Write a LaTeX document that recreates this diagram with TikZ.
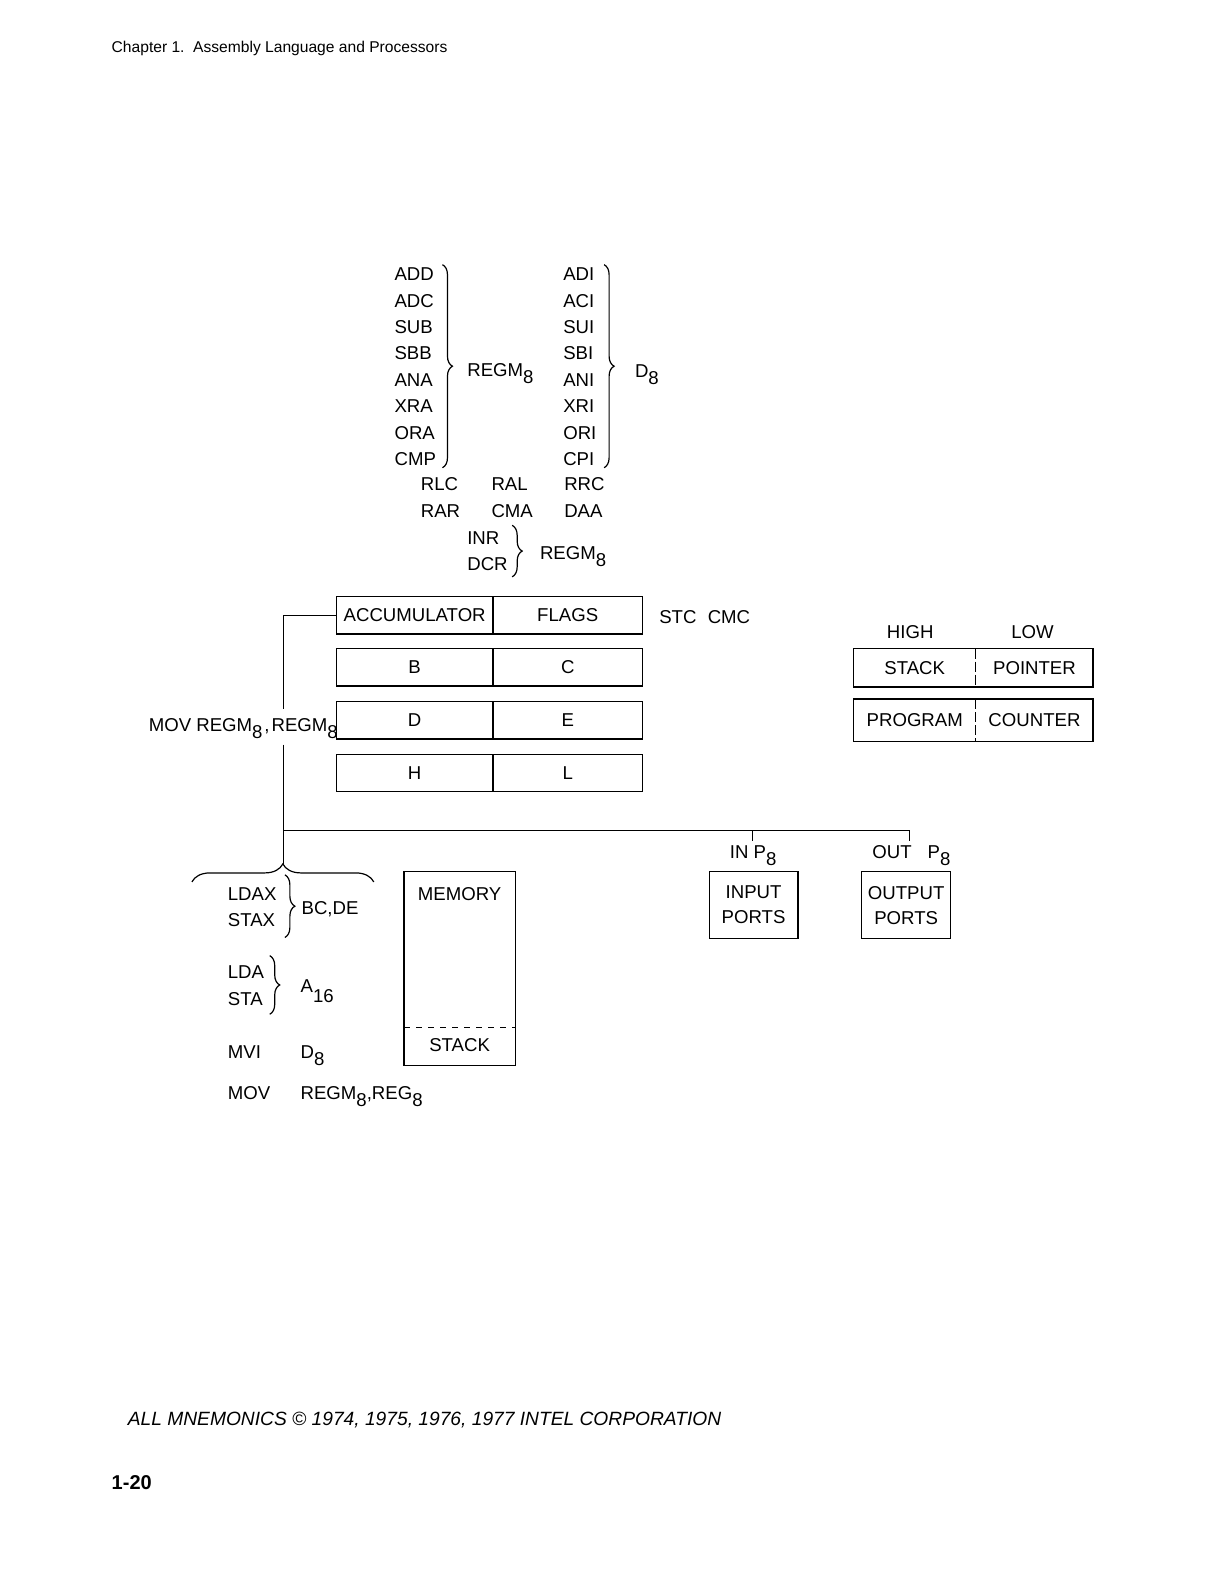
\documentclass[tikz,border=0pt]{standalone}
\usepackage{fontspec}
\setmainfont{Liberation Sans}
\usepackage{tikz}
\usetikzlibrary{positioning,decorations.pathreplacing}
\newcommand{\lowr}[1]{\raisebox{-3.5pt}{#1}}

\begin{document}
\begin{tikzpicture}[x=0.505pt, y=-0.505pt, line width=0.6pt,
    mn/.style={anchor=base west, inner sep=0pt, font=\fontsize{9.3}{11}\selectfont},
    cn/.style={inner sep=0pt, font=\fontsize{9.3}{11}\selectfont},
    reg/.style={rectangle, draw, inner sep=0pt, outer sep=0pt, minimum height=18.7pt, font=\fontsize{9.3}{12.5}\selectfont},
    brc/.style={decorate, decoration={brace, amplitude=5pt}}]
    \useasboundingbox (0,0) rectangle (1212,1568);

    \node[mn, font=\fontsize{7.8}{9}\selectfont] (hdr) at (110,52) {Chapter 1.\ \ Assembly Language and Processors};

    \foreach \m [count=\i from 0] in {ADD,ADC,SUB,SBB,ANA,XRA,ORA,CMP}
        \node[mn] (l\i) at (390,{278+26.1*\i}) {\m};
    \foreach \m [count=\i from 0] in {ADI,ACI,SUI,SBI,ANI,XRI,ORI,CPI}
        \node[mn] (r\i) at (557,{278+26.1*\i}) {\m};
    \draw[brc] (438,262) -- (438,463);
    \draw[brc] (598,262) -- (598,463);
    \node[mn] (rgl) at (462,373) {REGM\lowr{8}};
    \node[mn] (dr) at (628,374) {D\lowr{8}};

    \node[mn] (rlc) at (416,486) {RLC};
    \node[mn] (ral) at (486,486) {RAL};
    \node[mn] (rrc) at (558,486) {RRC};
    \node[mn] (rar) at (416,512) {RAR};
    \node[mn] (cma) at (486,512) {CMA};
    \node[mn] (daa) at (558,512) {DAA};
    \node[mn] (inr) at (462,539) {INR};
    \node[mn] (dcr) at (462,565) {DCR};
    \draw[brc] (507,520) -- (507,571);
    \node[mn] (rgi) at (534,554) {REGM\lowr{8}};

    \node[reg, minimum width=78.3pt] (acc) at (410.5,609) {ACCUMULATOR};
    \node[reg, minimum width=74.7pt, right=0pt of acc] (flg) {FLAGS};
    \node[reg, minimum width=78.3pt] (rb) at (410.5,660.5) {B};
    \node[reg, minimum width=74.7pt, right=0pt of rb] (rc) {C};
    \node[reg, minimum width=78.3pt] (rd) at (410.5,713) {D};
    \node[reg, minimum width=74.7pt, right=0pt of rd] (re) {E};
    \node[reg, minimum width=78.3pt] (rh) at (410.5,765) {H};
    \node[reg, minimum width=74.7pt, right=0pt of rh] (rl) {L};
    \node[mn] (stc) at (652,617) {STC};
    \node[mn] (cmc) at (700,617) {CMC};

    \node[cn] (hi) at (901,626) {HIGH};
    \node[cn] (lo) at (1022,626) {LOW};
    \node[reg, draw=none, minimum width=61.1pt, minimum height=19.2pt] (sph) at (905.5,661) {STACK};
    \node[reg, draw=none, minimum width=58.6pt, minimum height=19.2pt, right=0pt of sph] (spl) {POINTER};
    \draw (sph.north west) rectangle (spl.south east);
    \draw[dash pattern=on 5pt off 1.5pt] (sph.north east) -- (sph.south east);
    \node[reg, draw=none, minimum width=61.1pt, minimum height=21.2pt] (pch) at (905.5,713) {PROGRAM};
    \node[reg, draw=none, minimum width=58.6pt, minimum height=21.2pt, right=0pt of pch] (pcl) {COUNTER};
    \draw (pch.north west) rectangle (pcl.south east);
    \draw[dash pattern=on 5pt off 1.5pt] (pch.north east) -- (pch.south east);

    \node[mn, anchor=base east] (mv) at (335,724) {MOV REGM\lowr{8}\hspace{1pt},\hspace{1pt}REGM\lowr{8}};

    \coordinate (ta) at (281,702);
    \coordinate (tb) at (281,737);
    \coordinate (jn) at (281,822);
    \coordinate (tp) at (281,855);
    \coordinate (ti) at (745,832);
    \coordinate (to) at (900,832);
    \draw (acc.west) -| (ta);
    \draw (tb) -- (tp);
    \draw (jn) -| (to);
    \draw (ti) -- (ti |- jn);
    \draw[decorate, decoration={brace, amplitude=9pt}] (190,873) -- (370,873);

    \node[mn] (inl) at (722,850) {IN P\lowr{8}};
    \node[mn] (outl) at (863,850) {OUT\hspace{8pt}P\lowr{8}};
    \node[reg, minimum width=44.4pt, minimum height=33.3pt, align=center] (inp) at (746,896) {INPUT\\PORTS};
    \node[reg, minimum width=44.4pt, minimum height=33.3pt, align=center] (outp) at (897,896) {OUTPUT\\PORTS};

    \node[mn] (ldax) at (225,891) {LDAX};
    \node[mn] (stax) at (225,917) {STAX};
    \draw[brc] (282,866) -- (282,928);
    \node[mn] (bcde) at (298,905) {BC,DE};
    \node[mn] (lda) at (225,969) {LDA};
    \node[mn] (sta) at (225,995) {STA};
    \draw[brc] (267,946) -- (267,1004);
    \node[mn] (a16) at (297,982) {A\raisebox{-5pt}{16}};
    \node[mn] (mvi) at (225,1048) {MVI};
    \node[mn] (d8) at (297,1048) {D\lowr{8}};
    \node[mn] (mov) at (225,1088) {MOV};
    \node[mn] (rr) at (297,1088) {REGM\lowr{8},REG\lowr{8}};

    \node[reg, minimum width=55.6pt, minimum height=97pt] (mem) at (455,959) {};
    \node[cn] (memt) at (455,885) {MEMORY};
    \node[cn] (stkt) at (455,1035) {STACK};
    \coordinate (sk) at (455,1017);
    \draw[dashed] (mem.west |- sk) -- (mem.east |- sk);

    \node[mn, font=\fontsize{9.6}{11}\selectfont\itshape] (cpy) at (126,1411) {ALL MNEMONICS \textcopyright{} 1974, 1975, 1976, 1977 INTEL CORPORATION};
    \node[mn, font=\fontsize{10}{12}\selectfont\bfseries] (pg) at (110,1474) {1-20};
\end{tikzpicture}
\end{document}
